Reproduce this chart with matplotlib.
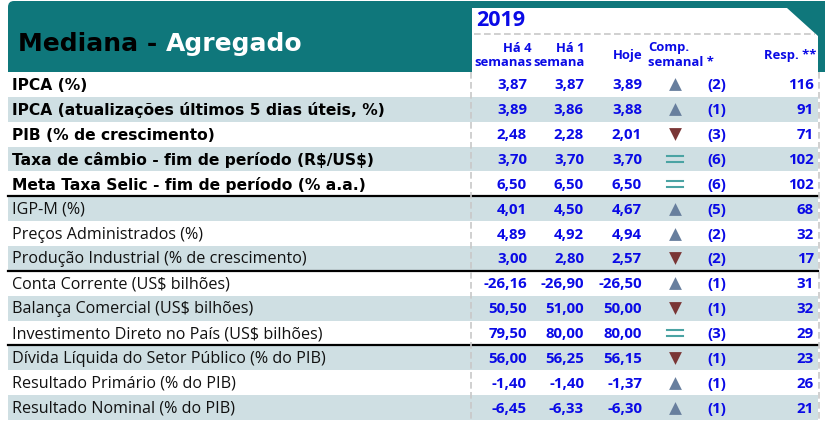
import matplotlib
matplotlib.use("Agg")
import matplotlib.pyplot as plt
from matplotlib.patches import Polygon, Rectangle, FancyBboxPatch

# table content
labels = ["IPCA (%)",
          "IPCA (atualizações últimos 5 dias úteis, %)",
          "PIB (% de crescimento)",
          "Taxa de câmbio - fim de período (R$/US$)",
          "Meta Taxa Selic - fim de período (% a.a.)",
          "IGP-M (%)",
          "Preços Administrados (%)",
          "Produção Industrial (% de crescimento)",
          "Conta Corrente (US$ bilhões)",
          "Balança Comercial (US$ bilhões)",
          "Investimento Direto no País (US$ bilhões)",
          "Dívida Líquida do Setor Público (% do PIB)",
          "Resultado Primário (% do PIB)",
          "Resultado Nominal (% do PIB)"]
ha4 = [3.87, 3.89, 2.48, 3.70, 6.50, 4.01, 4.89, 3.00, -26.16, 50.50, 79.50, 56.00, -1.40, -6.45]
ha1 = [3.87, 3.86, 2.28, 3.70, 6.50, 4.50, 4.92, 2.80, -26.90, 51.00, 80.00, 56.25, -1.40, -6.33]
hoje = [3.89, 3.88, 2.01, 3.70, 6.50, 4.67, 4.94, 2.57, -26.50, 50.00, 80.00, 56.15, -1.37, -6.30]
comp = ["up", "up", "down", "eq", "eq", "up", "up", "down", "up", "down", "eq", "down", "up", "up"]
semanas = [2, 1, 3, 6, 6, 5, 2, 2, 1, 1, 3, 1, 1, 1]
resp = [116, 91, 71, 102, 102, 68, 32, 17, 31, 32, 29, 23, 26, 21]
n_bold = 5
group_breaks = [5, 8, 11]

REG = "Open Sans"
BOLD = "DejaVu Sans"
TEAL = "#0f777b"
SHADE = "#cfdfe3"
BLUE = "#0a0ae6"
UP = "#687f9e"
DOWN = "#7a3636"
EQ = "#4aa3a3"

def fmt(v):
    return f"{v:.2f}".replace(".", ",")

fig = plt.figure(figsize=(8.25, 4.27), dpi=100)
ax = fig.add_axes([0, 0, 1, 1])
ax.set_xlim(0, 825)
ax.set_ylim(427, 0)
ax.axis("off")

# header band
ax.add_patch(FancyBboxPatch((8, 2), 830, 70, boxstyle="round,pad=0,rounding_size=6",
                            fc=TEAL, ec="none"))
ax.add_patch(Rectangle((8, 40), 830, 33, fc=TEAL, ec="none"))
ax.add_patch(Polygon([(472, 9), (787, 9), (818, 37), (818, 73), (472, 73)],
                     closed=True, fc="white", ec="none"))
ax.plot([474, 815], [35, 35], color="#c8c8c8", lw=1.2, ls=(0, (4, 2)))

tk = dict(fontsize=18, fontweight="bold", family=BOLD, va="center")
t = ax.text(18, 44, "Mediana - ", color="black", **tk)
fig.canvas.draw()
bb = t.get_window_extent().transformed(ax.transData.inverted())
ax.text(bb.x1, 44, "Agregado", color="white", **tk)

ax.text(476, 21, "2019", fontsize=15.5, fontweight="bold", family=REG, color=BLUE, va="center")
hk = dict(fontsize=9.4, fontweight="bold", family=REG, color=BLUE, va="center")
ax.text(532, 48, "Há 4", ha="right", **hk)
ax.text(532, 63, "semanas", ha="right", **hk)
ax.text(585, 48, "Há 1", ha="right", **hk)
ax.text(585, 63, "semana", ha="right", **hk)
ax.text(643, 55, "Hoje", ha="right", **hk)
ax.text(648, 48, "Comp.", ha="left", **hk)
ax.text(648, 63, "semanal *", ha="left", **hk)
ax.text(816, 55, "Resp. **", ha="right", **hk)

# rows
top = 73
rh = 24.86
nk = dict(fontsize=10.8, fontweight="bold", family=REG, color=BLUE, va="center")
for i, lab in enumerate(labels):
    y0 = top + i * rh
    yc = y0 + rh / 2
    if i % 2 == 1:
        ax.add_patch(Rectangle((8, y0), 810, rh, fc=SHADE, ec="none"))
    if i < n_bold:
        ax.text(12, yc, lab, fontsize=11.2, family=BOLD, fontweight="bold", va="center",
                color="black", parse_math=False)
    else:
        ax.text(12, yc, lab, fontsize=11.6, family=REG, va="center", color="#111111",
                parse_math=False)
    ax.text(527, yc, fmt(ha4[i]), ha="right", **nk)
    ax.text(584, yc, fmt(ha1[i]), ha="right", **nk)
    ax.text(642, yc, fmt(hoje[i]), ha="right", **nk)
    ax.text(717, yc, f"({semanas[i]})", ha="center", **nk)
    ax.text(814, yc, str(resp[i]), ha="right", **nk)
    if comp[i] == "up":
        ax.scatter([675], [yc], marker="^", s=85, color=UP, lw=0)
    elif comp[i] == "down":
        ax.scatter([675], [yc], marker="v", s=85, color=DOWN, lw=0)
    else:
        ax.plot([667, 683], [yc - 3, yc - 3], color=EQ, lw=1.5)
        ax.plot([667, 683], [yc + 3, yc + 3], color=EQ, lw=1.5)

for b in group_breaks:
    y = top + b * rh
    ax.plot([8, 818], [y, y], color="black", lw=1.6)

bottom = top + len(labels) * rh
for x in (471, 819):
    ax.plot([x, x], [73, bottom], color="#c8c8c8", lw=1.2, ls=(0, (4, 2)))

fig.savefig("out.png", dpi=100)
